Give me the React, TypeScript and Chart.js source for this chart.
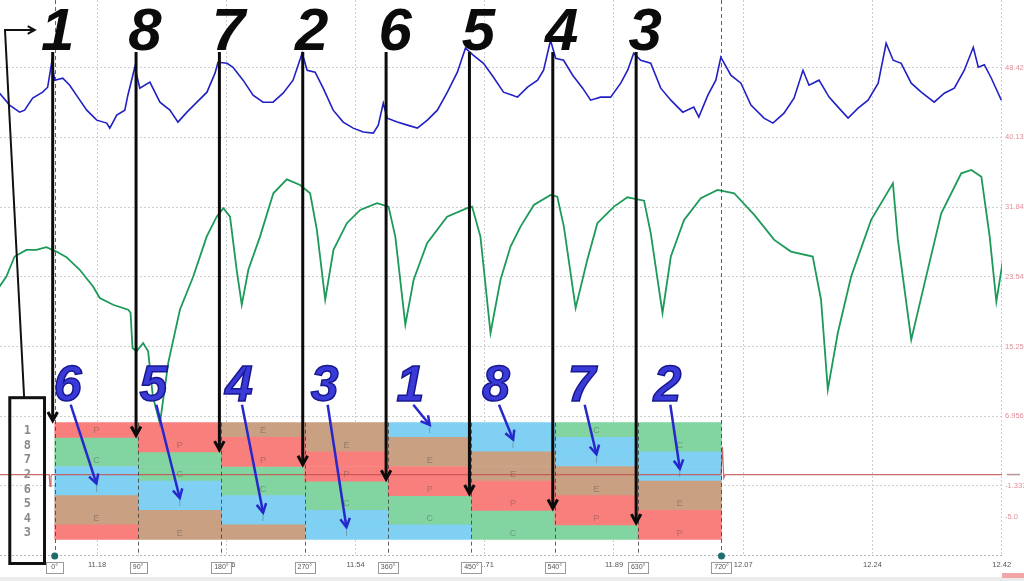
import React, { useEffect, useRef } from "react";
import { Chart, registerables } from "chart.js";

Chart.register(...registerables);
Chart.defaults.font.family = '"Liberation Sans", Arial, sans-serif';

// time axis gridlines (s), shown with 2 decimals
const TIME_TICKS = [11.1815, 11.3586, 11.5357, 11.7128, 11.8899, 12.067, 12.2441, 12.4212];
// crank angle rulers
const DEGREE_TICKS = [0, 90, 180, 270, 360, 450, 540, 630, 720];
// right hand value axis
const VALUE_TICKS = [48.42, 40.13, 31.84, 23.54, 15.25, 6.956, -1.337, -5.0];
const VALUE_LABELS = ["48.42", "40.13", "31.84", "23.54", "15.25", "6.956", "-1.337", "-5.0"];

// firing order rows, top to bottom
const CYLINDERS = ["1", "8", "7", "2", "6", "5", "4", "3"];
// cylinder on its intake stroke in each 90 deg column
const INTAKE_CALLOUTS = ["6", "5", "4", "3", "1", "8", "7", "2"];

// stroke segments: [row, start deg, end deg]
const POWER = [[0, 0, 180], [1, 90, 270], [2, 180, 360], [3, 270, 450], [4, 360, 540], [5, 450, 630], [6, 540, 720], [7, 630, 720], [7, 0, 90]];
const EXHAUST = [[0, 180, 360], [1, 270, 450], [2, 360, 540], [3, 450, 630], [4, 540, 720], [5, 630, 720], [5, 0, 90], [6, 0, 180], [7, 90, 270]];
const INTAKE = [[0, 360, 540], [1, 450, 630], [2, 540, 720], [3, 630, 720], [3, 0, 90], [4, 0, 180], [5, 90, 270], [6, 180, 360], [7, 270, 450]];
const COMPRESSION = [[0, 540, 720], [1, 630, 720], [1, 0, 90], [2, 0, 180], [3, 90, 270], [4, 180, 360], [5, 270, 450], [6, 360, 540], [7, 450, 630]];

// [deg, value]
const BLUE_TRACE = [
  [-59.5, 45.39], [-48.7, 43.97], [-37.9, 43.13], [-32.5, 43.37], [-23.8, 44.8], [-13.0, 45.51], [-7.6, 46.1], [-3.2, 49.07],
  [0, 46.94], [8.7, 47.17], [16.2, 46.34], [24.9, 44.92], [34.6, 43.37], [45.4, 42.18], [56.2, 41.83], [59.5, 41.23],
  [67.0, 42.78], [75.7, 43.37], [79.0, 45.15], [86.5, 48.48], [91.9, 45.99], [102.8, 46.7], [113.6, 44.32], [124.4, 43.37],
  [133.1, 41.95], [142.8, 43.13], [153.6, 44.32], [164.4, 45.51], [173.1, 47.77], [176.3, 49.07], [186.1, 48.95], [192.5, 48.48],
  [203.4, 46.94], [214.2, 45.15], [225.0, 44.32], [235.8, 44.32], [246.6, 45.39], [257.4, 46.94], [267.2, 50.14], [272.6, 48.12],
  [281.2, 47.89], [289.9, 45.99], [300.7, 43.37], [311.5, 41.95], [322.3, 41.23], [333.2, 40.76], [344.0, 40.64], [349.4, 41.59],
  [354.8, 44.2], [359.1, 42.42], [369.9, 41.95], [380.8, 41.59], [391.6, 41.23], [402.4, 42.18], [413.2, 43.37], [424.0, 45.51],
  [434.8, 47.89], [443.5, 50.74], [452.2, 49.9], [463.0, 48.95], [473.8, 47.29], [484.6, 45.51], [494.3, 45.15], [499.7, 44.92],
  [510.6, 46.1], [521.4, 46.94], [527.9, 48.12], [535.4, 51.69], [540.9, 49.55], [549.5, 49.31], [559.3, 47.53], [570.1, 45.99],
  [578.7, 44.56], [589.5, 44.92], [600.3, 44.92], [611.2, 46.58], [618.7, 48.12], [625.2, 50.14], [632.8, 49.31], [643.6, 48.95],
  [654.4, 45.99], [665.3, 44.56], [678.2, 43.13], [690.1, 43.73], [695.5, 42.54], [705.3, 45.15], [713.9, 46.94], [719.3, 49.67],
  [730.1, 47.53], [741.0, 46.58], [751.8, 43.97], [765.9, 42.42], [775.6, 41.83], [787.5, 43.02], [798.3, 44.8], [808.0, 48.12],
  [814.5, 46.34], [825.3, 46.94], [836.2, 44.92], [845.9, 43.73], [856.7, 42.42], [867.5, 43.61], [878.3, 44.56], [889.2, 46.58],
  [897.8, 51.33], [905.4, 49.31], [914.0, 48.95], [924.9, 46.58], [935.7, 45.51], [949.7, 44.32], [960.6, 45.39], [971.4, 45.99],
  [982.2, 48.12], [991.9, 50.85], [997.3, 48.48], [1003.8, 48.78], [1011.4, 47.17], [1022.2, 44.56],
];

const GREEN_TRACE = [
  [-59.5, 22.39], [-52.2, 23.57], [-43.3, 25.95], [-30.6, 26.74], [-19.8, 26.74], [-9.0, 27.07], [1.8, 26.54], [12.7, 25.88],
  [27.0, 24.37], [41.4, 22.39], [48.7, 21.01], [63.1, 20.21], [79.3, 19.62], [81.9, 19.26], [84.0, 15.07], [88.4, 14.67],
  [95.5, 15.66], [100.9, 14.67], [106.0, 9.29], [113.6, 6.08], [122.6, 13.29], [135.2, 19.62], [149.6, 23.57], [164.1, 28.32],
  [174.9, 30.7], [182.1, 31.7], [189.3, 30.7], [196.5, 24.37], [202.0, 20.21], [209.1, 24.37], [221.7, 28.32], [236.1, 33.48],
  [250.6, 35.14], [265.0, 34.46], [275.8, 33.48], [283.1, 29.12], [292.1, 20.81], [301.0, 26.74], [315.5, 29.92], [329.9, 31.5],
  [348.0, 32.29], [360.5, 31.89], [367.8, 28.32], [378.6, 17.84], [387.6, 23.18], [402.1, 27.54], [423.7, 30.7], [445.3, 31.7],
  [450.7, 31.89], [459.7, 28.32], [470.6, 16.85], [481.4, 23.18], [492.2, 27.14], [503.0, 29.51], [517.4, 32.09], [535.4, 33.28],
  [542.7, 33.07], [549.8, 29.51], [562.5, 19.82], [575.1, 25.56], [586.0, 29.92], [603.9, 31.89], [618.4, 33.0], [636.4, 32.6],
  [643.6, 28.73], [656.3, 19.23], [665.3, 25.95], [679.6, 30.31], [697.7, 32.88], [715.8, 33.87], [733.7, 33.48], [755.4, 30.9],
  [777.0, 27.93], [795.0, 26.54], [818.5, 25.95], [827.5, 20.81], [834.8, 10.12], [845.6, 16.85], [860.0, 23.57], [881.6, 30.31],
  [905.1, 34.67], [910.5, 27.93], [924.9, 16.05], [939.3, 22.79], [957.3, 31.1], [978.9, 35.85], [989.8, 36.25], [1000.6, 35.45],
  [1009.6, 28.32], [1016.8, 20.6], [1024.0, 25.56],
];

const RED_TRACE = [
  [-59.1, 0], [-6, 0], [-5, -1.4], [-4, -0.2], [-3, 0],
  [719.5, 0], [721, 3.3], [722.5, -0.4], [724, 0], [1022.9, 0],
];

const STROKES = [
  { key: "P", segs: POWER, color: "#f97f7d" },
  { key: "E", segs: EXHAUST, color: "#c9a082" },
  { key: "I", segs: INTAKE, color: "#7fd0f2" },
  { key: "C", segs: COMPRESSION, color: "#82d4a0" },
];

const chevron = (ctx: CanvasRenderingContext2D, x: number, y: number, angle: number, size: number) => {
  ctx.beginPath();
  ctx.moveTo(x - size * Math.cos(angle - 0.5), y - size * Math.sin(angle - 0.5));
  ctx.lineTo(x, y);
  ctx.lineTo(x - size * Math.cos(angle + 0.5), y - size * Math.sin(angle + 0.5));
  ctx.stroke();
};

const overlayPlugin = {
  id: "engineOverlay",
  afterDatasetsDraw(chart: any) {
    const { ctx, chartArea } = chart;
    const deg = chart.scales.deg;
    const rows = chart.scales.rows;
    const yv = chart.scales.y;
    const { top, bottom, left, right } = chartArea;
    const blockTop = rows.getPixelForValue(-0.5);
    const blockBottom = rows.getPixelForValue(CYLINDERS.length - 0.5);
    ctx.save();

    // stroke letters (first half of each stroke)
    ctx.font = '9px "Liberation Sans"';
    ctx.textAlign = "center";
    ctx.textBaseline = "middle";
    ctx.fillStyle = "rgba(70,70,70,0.4)";
    STROKES.forEach((s) =>
      s.segs.forEach(([r, a, b]) => {
        if (a === 0 && b - a < 180) return;
        ctx.fillText(s.key, deg.getPixelForValue(a + 45), rows.getPixelForValue(r) + 1);
      })
    );

    // crank angle rulers
    ctx.strokeStyle = "rgba(60,60,60,0.8)";
    ctx.lineWidth = 1;
    ctx.setLineDash([4, 3]);
    DEGREE_TICKS.forEach((d, i) => {
      const x = Math.round(deg.getPixelForValue(d)) + 0.5;
      const full = i === 0 || i === DEGREE_TICKS.length - 1;
      ctx.beginPath();
      ctx.moveTo(x, full ? top : blockTop);
      ctx.lineTo(x, bottom);
      ctx.stroke();
    });

    // dotted x axis line
    ctx.strokeStyle = "#b4b4b4";
    ctx.setLineDash([2, 2]);
    ctx.beginPath();
    ctx.moveTo(left, bottom - 0.5);
    ctx.lineTo(right, bottom - 0.5);
    ctx.stroke();
    ctx.setLineDash([]);

    // level marker right of plot
    const zeroY = yv.getPixelForValue(0);
    ctx.strokeStyle = "rgba(170,120,120,0.8)";
    ctx.lineWidth = 1.5;
    ctx.beginPath();
    ctx.moveTo(right + 5, zeroY);
    ctx.lineTo(right + 18, zeroY);
    ctx.stroke();

    // row label box
    const boxL = deg.getPixelForValue(-48.5);
    const boxR = deg.getPixelForValue(-11);
    const boxT = blockTop - 25;
    const boxB = blockBottom + 24;
    ctx.strokeStyle = "#111";
    ctx.lineWidth = 3;
    ctx.strokeRect(boxL, boxT, boxR - boxL, boxB - boxT);
    ctx.font = 'bold 12px "DejaVu Sans Mono"';
    ctx.fillStyle = "#8a8a8a";
    CYLINDERS.forEach((c, i) => {
      ctx.fillText(c, deg.getPixelForValue(-29.5), rows.getPixelForValue(i) + 1);
    });

    // elbow arrow from box to first numeral
    const elbowY = top + 30;
    ctx.lineWidth = 2;
    ctx.beginPath();
    ctx.moveTo((boxL + boxR) / 2 - 3, boxT);
    ctx.lineTo(left + 5, elbowY);
    ctx.lineTo(deg.getPixelForValue(0) - 20, elbowY);
    ctx.stroke();
    chevron(ctx, deg.getPixelForValue(0) - 20, elbowY, 0, 8);

    // black firing order numerals and arrows
    ctx.textAlign = "center";
    ctx.textBaseline = "alphabetic";
    CYLINDERS.forEach((c, i) => {
      const x = deg.getPixelForValue(i * 90) - 2;
      const tipY = rows.getPixelForValue(i - 0.5) - 2;
      ctx.fillStyle = "#0b0b0b";
      ctx.font = 'italic bold 60px "Liberation Sans"';
      ctx.fillText(c, x + (i === 0 ? 5 : 9), top + 50);
      ctx.strokeStyle = "#0b0b0b";
      ctx.lineWidth = 3;
      ctx.beginPath();
      ctx.moveTo(x, top + 52);
      ctx.lineTo(x, tipY);
      ctx.stroke();
      chevron(ctx, x, tipY, Math.PI / 2, 10);
    });

    // blue intake callouts
    INTAKE_CALLOUTS.forEach((c, k) => {
      const r = CYLINDERS.indexOf(c);
      const seg = INTAKE.find(([row, a]) => row === r && a === k * 90);
      if (!seg) return;
      const cx = deg.getPixelForValue(k * 90 + 14 + k * 2.5);
      const baseY = blockTop - 22;
      ctx.font = 'italic bold 50px "Liberation Sans"';
      ctx.fillStyle = "#3a3ad8";
      ctx.strokeStyle = "#17178f";
      ctx.lineWidth = 1.5;
      ctx.fillText(c, cx, baseY);
      ctx.strokeText(c, cx, baseY);
      const sx = cx + 3;
      const sy = baseY + 4;
      const ex = deg.getPixelForValue(seg[1] + 45);
      const ey = rows.getPixelForValue(r) - 5;
      ctx.strokeStyle = "#2727cc";
      ctx.lineWidth = 2.5;
      ctx.beginPath();
      ctx.moveTo(sx, sy);
      ctx.lineTo(ex, ey);
      ctx.stroke();
      chevron(ctx, ex, ey, Math.atan2(ey - sy, ex - sx), 10);
    });

    // degree labels in boxes below the axis
    ctx.font = '7px "Liberation Sans"';
    ctx.textBaseline = "middle";
    DEGREE_TICKS.forEach((d) => {
      const x = deg.getPixelForValue(d);
      const label = `${d}°`;
      const w = Math.max(17, ctx.measureText(label).width + 6);
      const y = bottom + 11;
      ctx.fillStyle = "#fff";
      ctx.fillRect(x - w / 2, y - 5.5, w, 11);
      ctx.strokeStyle = "#9a9a9a";
      ctx.lineWidth = 1;
      ctx.strokeRect(Math.round(x - w / 2) + 0.5, Math.round(y - 5.5) + 0.5, Math.round(w), 11);
      ctx.fillStyle = "#555";
      ctx.fillText(label, x, y + 0.5);
    });

    // ruler handles
    ctx.fillStyle = "#1f6e6e";
    [DEGREE_TICKS[0], DEGREE_TICKS[DEGREE_TICKS.length - 1]].forEach((d) => {
      ctx.beginPath();
      ctx.arc(deg.getPixelForValue(d), bottom, 3.5, 0, Math.PI * 2);
      ctx.fill();
    });

    // window edge strip
    const h = chart.height;
    ctx.fillStyle = "#ebebeb";
    ctx.fillRect(0, h - 4, chart.width, 4);
    ctx.fillStyle = "#f2a5a5";
    ctx.fillRect(right, h - 8, chart.width - right, 5);
    ctx.restore();
  },
};

const EngineChart = () => {
  const canvasRef = useRef<HTMLCanvasElement>(null);
  const chartRef = useRef<Chart | null>(null);

  useEffect(() => {
    document.body.style.margin = "0";
    if (!canvasRef.current) return;
    const ctx = canvasRef.current.getContext("2d");
    if (!ctx) return;

    const lineSet = (data: number[][], color: string, width: number) => ({
      type: "line" as const,
      data: data.map(([x, y]) => ({ x, y })),
      xAxisID: "deg",
      yAxisID: "y",
      borderColor: color,
      borderWidth: width,
      pointRadius: 0,
      tension: 0,
      fill: false,
    });

    const barSets = STROKES.map((s) => ({
      type: "bar" as const,
      indexAxis: "y" as const,
      data: s.segs.map(([r, a, b]) => ({ x: [a, b], y: r })),
      xAxisID: "deg",
      yAxisID: "rows",
      backgroundColor: s.color,
      borderWidth: 0,
      grouped: false,
      categoryPercentage: 1,
      barPercentage: 1,
    }));

    chartRef.current = new Chart(ctx, {
      type: "line",
      data: {
        datasets: [
          lineSet(RED_TRACE, "rgba(200,80,80,0.85)", 1.2),
          lineSet(BLUE_TRACE, "#2020c4", 1.6),
          lineSet(GREEN_TRACE, "#1c9a58", 1.8),
          ...barSets,
        ] as any,
      },
      options: {
        animation: false,
        responsive: true,
        maintainAspectRatio: false,
        events: [],
        layout: { padding: 0 },
        plugins: { legend: { display: false }, tooltip: { enabled: false } },
        scales: {
          x: {
            type: "linear",
            position: "bottom",
            min: 11.0485,
            max: 12.4216,
            afterBuildTicks: (s: any) => {
              s.ticks = TIME_TICKS.map((v) => ({ value: v }));
            },
            afterFit: (s: any) => {
              s.height = 25;
              s.paddingLeft = 0;
              s.paddingRight = 0;
            },
            grid: { color: "#cdcdcd", lineWidth: 1, drawTicks: false },
            border: { display: false, dash: [2, 2] },
            ticks: {
              color: "#555",
              font: { size: 7.5 },
              padding: 4,
              maxRotation: 0,
              autoSkip: false,
              callback: (v: any) => Number(v).toFixed(2),
            },
          },
          deg: {
            type: "linear",
            axis: "x",
            position: "bottom",
            display: false,
            offset: false,
            beginAtZero: false,
            min: -59.07,
            max: 1022.9,
          },
          y: {
            type: "linear",
            position: "right",
            min: -9.69,
            max: 56.48,
            afterBuildTicks: (s: any) => {
              s.ticks = VALUE_TICKS.map((v) => ({ value: v }));
            },
            afterFit: (s: any) => {
              s.width = 22;
              s.paddingTop = 0;
              s.paddingBottom = 0;
            },
            grid: {
              color: (c: any) => (c.tick && c.tick.value === -5 ? "rgba(0,0,0,0)" : "#cdcdcd"),
              drawTicks: false,
            },
            border: { display: false, dash: [2, 2] },
            ticks: {
              color: "#e0909a",
              font: { size: 7.5 },
              padding: 3,
              callback: (_v: any, i: number) => VALUE_LABELS[i],
            },
          },
          rows: {
            type: "linear",
            axis: "y",
            position: "left",
            display: false,
            reverse: true,
            offset: false,
            grid: { offset: false },
            min: -29.452,
            max: 8.63,
            afterBuildTicks: (s: any) => {
              s.ticks = CYLINDERS.map((_, i) => ({ value: i }));
            },
          },
        },
      } as any,
      plugins: [overlayPlugin],
    });

    return () => {
      if (chartRef.current) {
        chartRef.current.destroy();
        chartRef.current = null;
      }
    };
  }, []);

  return (
    <div style={{ position: "relative", width: 1024, height: 581 }}>
      <canvas ref={canvasRef} />
    </div>
  );
};

export default function App() {
  return <EngineChart />;
}
